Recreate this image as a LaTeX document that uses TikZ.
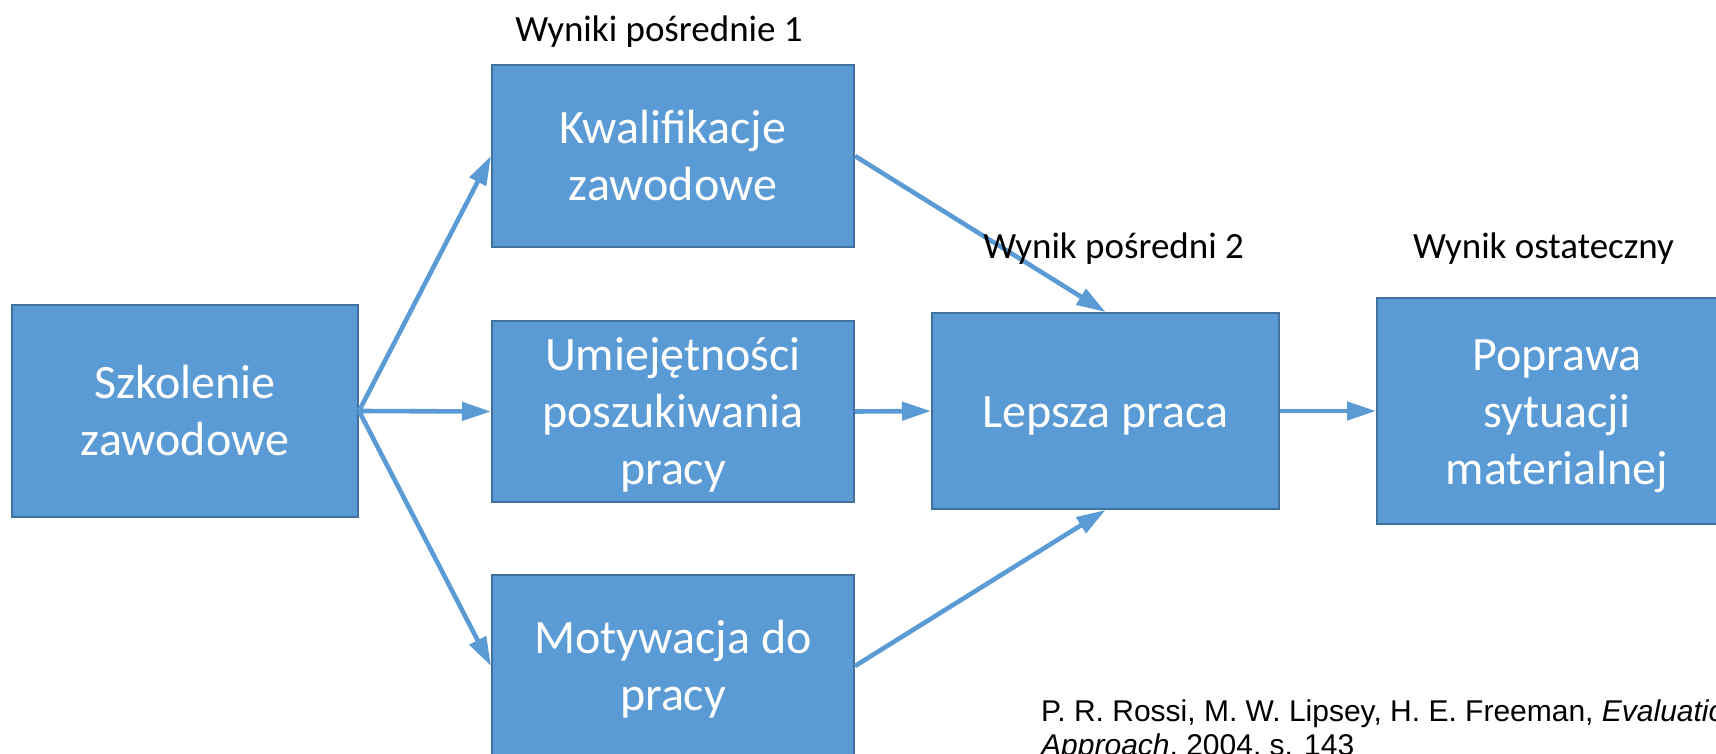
\documentclass[tikz,border=0pt]{standalone}
\usepackage{fontspec}
\setmainfont{Carlito}
\newfontfamily\citefont{Liberation Sans}
\usepackage{xcolor}
\usepackage{tikz}
\usetikzlibrary{arrows.meta}
\definecolor{boxfill}{HTML}{5B9BD5}
\definecolor{boxline}{HTML}{41719C}
\newcommand{\toprl}{\rule{0pt}{45pt}}
\newcommand{\botrl}{\rule[-13pt]{0pt}{13pt}}
\tikzset{
  blk/.style={draw=boxline, fill=boxfill, line width=2pt, text=white, align=center,
    inner sep=0pt, font=\fontsize{48}{57}\selectfont},
  arr/.style={draw=boxfill, line width=4.6pt, -{Triangle[length=29pt, width=18pt]}},
  lab/.style={text=black, anchor=base, inner sep=0pt, font=\fontsize{37}{44}\selectfont},
  cite/.style={text=black, anchor=base west, align=left, inner sep=0pt,
    font=\citefont\fontsize{30}{34}\selectfont},
}

\begin{document}
\begin{tikzpicture}[x=1pt, y=-1pt]
  \useasboundingbox (0,0) rectangle (1716,753);
  \node[blk, minimum width=346pt, minimum height=212pt] (szk) at (185,411) {\toprl Szkolenie\\zawodowe\botrl};
  \node[blk, minimum width=362pt, minimum height=182pt] (kwal) at (673,156) {\toprl Kwalifikacje\\zawodowe\botrl};
  \node[blk, minimum width=362pt, minimum height=181pt] (umie) at (673,411.5) {\toprl Umiejętności\\poszukiwania\\pracy\botrl};
  \node[blk, minimum width=362pt, minimum height=182pt] (moty) at (673,666) {\toprl Motywacja do\\pracy\botrl};
  \node[blk, minimum width=347pt, minimum height=196pt] (lep) at (1105.5,411) {\toprl Lepsza praca\botrl};
  \node[blk, minimum width=360pt, minimum height=226pt] (pop) at (1557,411) {\toprl Poprawa\\sytuacji\\materialnej\botrl};
  \draw[arr] (szk.east) -- (kwal.west);
  \draw[arr] (szk.east) -- (umie.west);
  \draw[arr] (szk.east) -- (moty.west);
  \draw[arr] (kwal.east) -- (lep.north);
  \draw[arr] (umie.east) -- (lep.west);
  \draw[arr] (moty.east) -- (lep.south);
  \draw[arr] (lep.east) -- (pop.west);
  \node[lab] (lab1) at (659,41) {Wyniki pośrednie 1};
  \node[lab] (lab2) at (1113.6,258) {Wynik pośredni 2};
  \node[lab] (lab3) at (1543.5,258) {Wynik ostateczny};
  \node[cite] (src) at (1041,755) {P. R. Rossi, M. W. Lipsey, H. E. Freeman, \textit{Evaluation: A Systematic}\\\textit{Approach}, 2004, s. 143};
\end{tikzpicture}
\end{document}
